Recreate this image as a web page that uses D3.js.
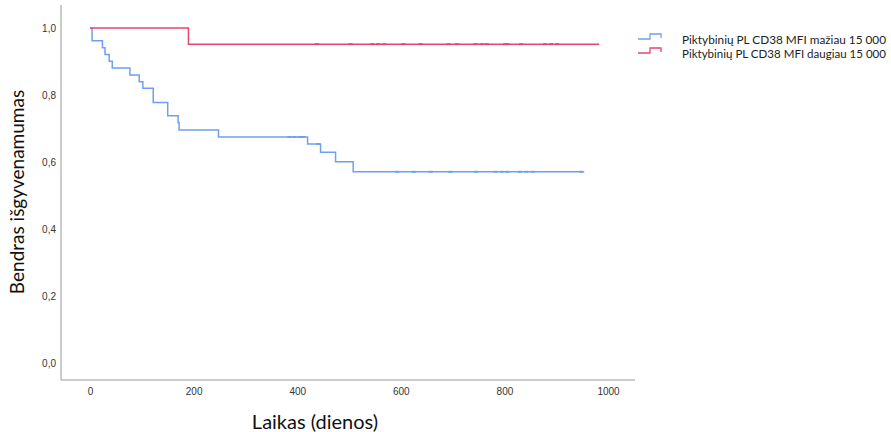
<!DOCTYPE html>
<html>
<head>
<meta charset="utf-8">
<script src="https://cdn.jsdelivr.net/npm/d3@7"></script>
<style>
  body { margin: 0; background: #fff; }
  svg { display: block; }
  .tick text { font-family: 'Liberation Sans', Arial, sans-serif; font-size: 10px; fill: #333; }
</style>
</head>
<body>
<div id="chart"></div>
<script>
// step points: [days, survival]
const lowTimes = [0, 4, 24, 29, 37, 43, 77, 95, 102, 122, 150, 170, 172, 248, 420, 445, 474, 508, 954];
const lowSurv = [1.0, 0.962, 0.941, 0.921, 0.901, 0.881, 0.860, 0.840, 0.820, 0.778, 0.738, 0.718, 0.696, 0.675, 0.654, 0.629, 0.601, 0.571, 0.571];
const lowCensored = [385, 395, 405, 412, 440, 593, 625, 658, 696, 745, 783, 795, 805, 830, 842, 855, 948];

const highTimes = [0, 190, 983];
const highSurv = [1.0, 0.952, 0.952];
const highCensored = [438, 503, 545, 556, 568, 605, 638, 692, 708, 744, 756, 766, 801, 806, 832, 878, 890, 902];

const xTicks = [0, 200, 400, 600, 800, 1000];
const yTicks = [0, 0.2, 0.4, 0.6, 0.8, 1.0];
const legendLabels = ['Piktybinių PL CD38 MFI mažiau 15 000', 'Piktybinių PL CD38 MFI daugiau 15 000'];
const colors = ['#6ea0ef', '#e6456e'];

const width = 891;
const height = 432;

const x = d3.scaleLinear().domain([-56, 1052]).range([61, 635]);
const y = d3.scaleLinear().domain([-0.051, 1.069]).range([380, 5]);

const svg = d3.select('#chart')
  .append('svg')
  .attr('width', width)
  .attr('height', height);

// axes
const xAxis = svg.append('g')
  .attr('transform', `translate(0, ${y.range()[0]})`)
  .call(d3.axisBottom(x).tickValues(xTicks).tickSize(0).tickPadding(8).tickFormat(d3.format('d')));
xAxis.select('.domain').attr('stroke', '#999').attr('d', `M${x.range()[0]},0H${x.range()[1]}`);

const yAxis = svg.append('g')
  .attr('transform', `translate(${x.range()[0]}, 0)`)
  .call(d3.axisLeft(y).tickValues(yTicks).tickSize(0).tickPadding(5)
    .tickFormat(d => d3.format('.1f')(d).replace('.', ',')));
yAxis.select('.domain').attr('stroke', '#999').attr('d', `M0,${y.range()[1]}V${y.range()[0]}`);

// survival curves
const line = d3.line()
  .x(d => x(d[0]))
  .y(d => y(d[1]))
  .curve(d3.curveStepAfter);

function stepAt(times, surv, t) {
  let s = surv[0];
  times.forEach((tt, i) => { if (tt <= t) s = surv[i]; });
  return s;
}

const series = [
  { times: lowTimes, surv: lowSurv, cens: lowCensored, color: colors[0] },
  { times: highTimes, surv: highSurv, cens: highCensored, color: colors[1] },
];

series.forEach(s => {
  svg.append('path')
    .datum(d3.zip(s.times, s.surv))
    .attr('fill', 'none')
    .attr('stroke', s.color)
    .attr('stroke-width', 1.5)
    .attr('d', line);

  // censor marks, barely visible as darker bits of the line
  svg.append('g')
    .selectAll('line')
    .data(s.cens)
    .enter()
    .append('line')
    .attr('x1', d => x(d) - 2)
    .attr('x2', d => x(d) + 2)
    .attr('y1', d => y(stepAt(s.times, s.surv, d)))
    .attr('y2', d => y(stepAt(s.times, s.surv, d)))
    .attr('stroke', s.color)
    .attr('stroke-width', 1.9);
});

// axis titles
svg.append('text')
  .attr('transform', 'translate(24, 192) rotate(-90)')
  .attr('text-anchor', 'middle')
  .style('font-family', 'Lato, "Open Sans", sans-serif')
  .style('font-size', '19px')
  .style('fill', '#111')
  .text('Bendras išgyvenamumas');

svg.append('text')
  .attr('x', 315)
  .attr('y', 429)
  .attr('text-anchor', 'middle')
  .style('font-family', 'Lato, "Open Sans", sans-serif')
  .style('font-size', '20px')
  .style('fill', '#111')
  .text('Laikas (dienos)');

// legend
const legend = svg.append('g').attr('transform', 'translate(638, 0)');
legendLabels.forEach((label, i) => {
  const ly = 39 + i * 14;
  legend.append('path')
    .attr('d', `M0,${ly}H12V${ly - 5}H23V${ly - 1}`)
    .attr('fill', 'none')
    .attr('stroke', colors[i])
    .attr('stroke-width', 1.3);
  legend.append('text')
    .attr('x', 44)
    .attr('y', ly + 5)
    .attr('textLength', 204)
    .attr('lengthAdjust', 'spacingAndGlyphs')
    .style('font-family', 'Lato, "Open Sans", sans-serif')
    .style('font-size', '11.5px')
    .style('fill', '#222')
    .text(label);
});
</script>
</body>
</html>
